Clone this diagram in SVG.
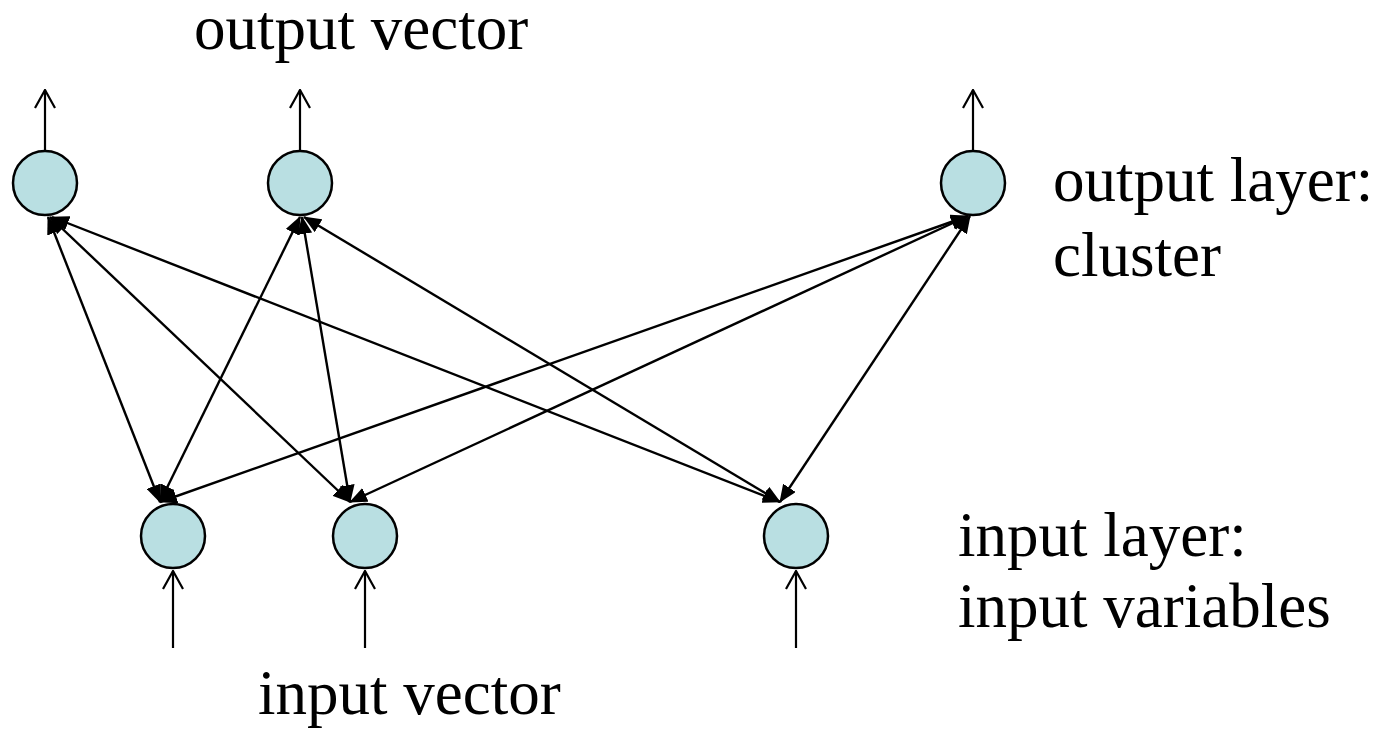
<svg xmlns="http://www.w3.org/2000/svg" width="1390" height="732" viewBox="0 0 1390 732">
<style>
.node{fill:#b9dfe2;stroke:#000;stroke-width:2.5}
.lbl{font-family:"Liberation Serif","Times New Roman",serif;font-size:63px;fill:#000}
.io{stroke:#000;stroke-width:2.2;fill:none}
.edge{stroke:#000;stroke-width:2.4;fill:none;marker-start:url(#fill);marker-end:url(#fill)}
</style>
<defs>
<marker id="fill" viewBox="0 0 18 15" refX="17" refY="7.5" markerWidth="18" markerHeight="15" markerUnits="userSpaceOnUse" orient="auto-start-reverse">
<path d="M0,0 L18,7.5 L0,15 Z" fill="#000"/>
</marker>
<marker id="open" viewBox="0 0 20 22" refX="19" refY="11" markerWidth="20" markerHeight="22" markerUnits="userSpaceOnUse" orient="auto">
<path d="M1,1 L19,11 L1,21" fill="none" stroke="#000" stroke-width="2.2"/>
</marker>
</defs>
<rect width="1390" height="732" fill="#fff"/>
<g id="connectors">
<line class="io" x1="45" y1="151" x2="45" y2="90" marker-end="url(#open)"/>
<line class="io" x1="300" y1="151" x2="300" y2="90" marker-end="url(#open)"/>
<line class="io" x1="973" y1="151" x2="973" y2="90" marker-end="url(#open)"/>
<line class="io" x1="173" y1="648" x2="173" y2="571" marker-end="url(#open)"/>
<line class="io" x1="365" y1="648" x2="365" y2="571" marker-end="url(#open)"/>
<line class="io" x1="796" y1="648" x2="796" y2="571" marker-end="url(#open)"/>
<line class="edge" x1="48" y1="217" x2="160" y2="502"/>
<line class="edge" x1="50" y1="217" x2="350" y2="502"/>
<line class="edge" x1="52" y1="217" x2="780" y2="502"/>
<line class="edge" x1="300" y1="217" x2="160" y2="502"/>
<line class="edge" x1="302" y1="217" x2="350" y2="502"/>
<line class="edge" x1="304" y1="217" x2="780" y2="502"/>
<line class="edge" x1="968" y1="216" x2="160" y2="502"/>
<line class="edge" x1="968" y1="216" x2="350" y2="502"/>
<line class="edge" x1="970" y1="216" x2="780" y2="502"/>
</g>
<g id="out1"><circle class="node" cx="45" cy="183" r="32"/></g>
<g id="out2"><circle class="node" cx="300" cy="183" r="32"/></g>
<g id="out3"><circle class="node" cx="973" cy="183" r="32"/></g>
<g id="in1"><circle class="node" cx="173" cy="536" r="32"/></g>
<g id="in2"><circle class="node" cx="365" cy="536" r="32"/></g>
<g id="in3"><circle class="node" cx="796" cy="536" r="32"/></g>
<g id="labels">
<text class="lbl" x="194" y="49">output vector</text>
<text class="lbl" x="1053" y="201">output layer:</text>
<text class="lbl" x="1053" y="276">cluster</text>
<text class="lbl" x="958" y="556">input layer:</text>
<text class="lbl" x="958" y="627">input variables</text>
<text class="lbl" x="258" y="714">input vector</text>
</g>
</svg>
